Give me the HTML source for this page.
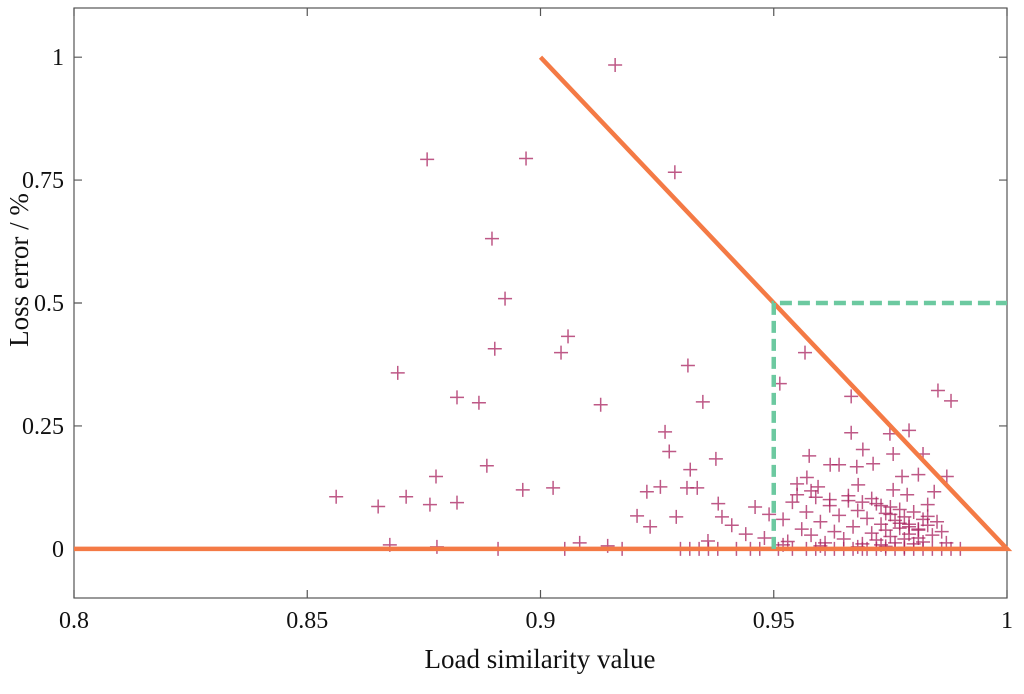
<!DOCTYPE html>
<html><head><meta charset="utf-8"><style>
html,body{margin:0;padding:0;background:#fff;}
svg text{font-family:"Liberation Serif",serif;fill:#111;}
</style></head><body>
<svg id="chart" width="1024" height="689" xmlns="http://www.w3.org/2000/svg"></svg>
<script>
const xTicks=[0.8,0.85,0.9,0.95,1];
const xTickLabels=["0.8","0.85","0.9","0.95","1"];
const yTicks=[0,0.25,0.5,0.75,1];
const yTickLabels=["0","0.25","0.5","0.75","1"];
const pointsX=[0.8562,0.8652,0.8677,0.8694,0.8712,0.8757,0.8763,0.8776,0.8778,0.8821,0.8821,0.8868,0.8885,0.8896,0.8902,0.8909,0.8924,0.8969,0.8962,0.9027,0.9044,0.9059,0.9052,0.9084,0.9129,0.9144,0.916,0.9175,0.9207,0.9228,0.9235,0.9257,0.9267,0.9276,0.9288,0.9291,0.9316,0.9321,0.9314,0.9336,0.9348,0.9359,0.9376,0.9381,0.9389,
0.9567,0.9513,0.9666,0.9666,0.9691,0.9713,0.9756,0.9749,0.979,0.982,0.9775,0.9852,0.988,0.9871,0.981,0.9576,0.9621,0.964,0.9678,0.9681,0.9571,0.955,0.9595,0.9844,0.9756,0.9786,
0.941,0.944,0.946,0.948,0.949,0.952,0.953,0.954,0.956,0.957,0.958,0.959,0.960,0.961,0.962,0.963,0.964,0.965,0.966,0.967,0.968,0.969,0.970,0.971,0.972,0.972,0.973,0.973,0.974,0.974,0.975,0.975,0.976,0.976,0.977,0.977,0.978,0.978,0.979,0.979,0.980,0.980,0.981,0.981,0.982,0.982,0.983,0.983,0.984,0.985,0.986,0.987,0.955,0.958,0.962,0.966,0.969,0.971,0.973,0.975,0.977,0.979,0.981,0.983,0.952,0.960,0.968,0.974,0.978,
0.930,0.932,0.934,0.936,0.938,0.942,0.945,0.947,0.951,0.954,0.957,0.959,0.961,0.963,0.965,0.967,0.969,0.970,0.972,0.974,0.976,0.978,0.980,0.982,0.984,0.986,0.988,0.990];
const pointsY=[0.106,0.086,0.008,0.358,0.106,0.792,0.09,0.147,0.004,0.308,0.094,0.297,0.169,0.631,0.407,0,0.509,0.794,0.12,0.124,0.399,0.432,0,0.012,0.293,0.006,0.984,0,0.067,0.116,0.045,0.126,0.238,0.198,0.766,0.065,0.373,0.161,0.124,0.124,0.299,0.016,0.183,0.092,0.065,
0.399,0.336,0.310,0.236,0.202,0.173,0.193,0.234,0.241,0.193,0.147,0.322,0.301,0.147,0.151,0.189,0.171,0.171,0.167,0.130,0.145,0.132,0.126,0.116,0.120,0.110,
0.048,0.030,0.085,0.022,0.070,0.060,0.015,0.095,0.040,0.075,0.028,0.105,0.055,0.012,0.088,0.035,0.068,0.020,0.098,0.045,0.078,0.010,0.062,0.032,0.092,0.018,0.050,0.008,0.072,0.038,0.025,0.085,0.058,0.012,0.042,0.080,0.020,0.065,0.030,0.050,0.010,0.075,0.040,0.022,0.060,0.014,0.048,0.090,0.028,0.055,0.035,0.012,0.110,0.118,0.100,0.108,0.095,0.102,0.088,0.070,0.052,0.045,0.038,0.066,0.008,0.006,0.004,0.005,0.003,
0,0,0,0,0,0,0,0,0,0,0,0,0,0,0,0,0,0,0,0,0,0,0,0,0,0,0,0];
const boundaryX=[0.8,1,0.9];
const boundaryY=[0,0,1];
const regionX=[0.95,0.95,1];
const regionY=[0,0.5,0.5];

const L=74,R=1007,T=8,B=598;
const xMin=0.8,xMax=1,yMin=-0.1,yMax=1.1;
const sx=v=>L+(v-xMin)/(xMax-xMin)*(R-L);
const sy=v=>B-(v-yMin)/(yMax-yMin)*(B-T);
const svg=document.getElementById('chart');
const NS='http://www.w3.org/2000/svg';
function mk(tag,attrs,parent){const e=document.createElementNS(NS,tag);for(const k in attrs)e.setAttribute(k,attrs[k]);(parent||svg).appendChild(e);return e;}

const frame=mk('rect',{x:L,y:T,width:R-L,height:B-T,fill:'none',stroke:'#555','stroke-width':1.2});



xTicks.forEach((t,i)=>{
  const x=sx(t);
  const tk=mk('path',{d:`M${x},${B}V${B-8}M${x},${T}V${T+8}`,stroke:'#555','stroke-width':1.2});
  
  
  const lb=mk('text',{x:x,y:B+30,'text-anchor':'middle','font-size':24});
  lb.textContent=xTickLabels[i];
  
  
});
yTicks.forEach((t,i)=>{
  const y=sy(t);
  const tk=mk('path',{d:`M${L},${y}H${L+8}M${R},${y}H${R-8}`,stroke:'#555','stroke-width':1.2});
  
  
  const lb=mk('text',{x:L-10,y:y+8,'text-anchor':'end','font-size':24});
  lb.textContent=yTickLabels[i];
  
  
});

const g=mk('g',{stroke:'#a8205e','stroke-width':1.5,'stroke-opacity':0.75});


pointsX.forEach((px,i)=>{
  const x=sx(px),y=sy(pointsY[i]);
  const p=mk('path',{d:`M${x-7},${y}H${x+7}M${x},${y-7}V${y+7}`},g);
  
  
});

const b=mk('path',{d:`M${sx(boundaryX[0])},${sy(boundaryY[0])}L${sx(boundaryX[1])},${sy(boundaryY[1])}L${sx(boundaryX[2])},${sy(boundaryY[2])}`,fill:'none',stroke:'#f47a45','stroke-width':4.5,'stroke-linejoin':'miter'});


const r=mk('path',{d:`M${sx(regionX[0])},${sy(regionY[0])}L${sx(regionX[1])},${sy(regionY[1])}L${sx(regionX[2])},${sy(regionY[2])}`,fill:'none',stroke:'#6cc9a0','stroke-width':4.5,'stroke-dasharray':'12 6'});



const xt=mk('text',{x:540,y:668,'text-anchor':'middle','font-size':27});
xt.textContent='Load similarity value';


const yt=mk('text',{x:0,y:0,'text-anchor':'middle','font-size':27,transform:`translate(28,270) rotate(-90)`});
yt.textContent='Loss error / %';


</script>
</body></html>
